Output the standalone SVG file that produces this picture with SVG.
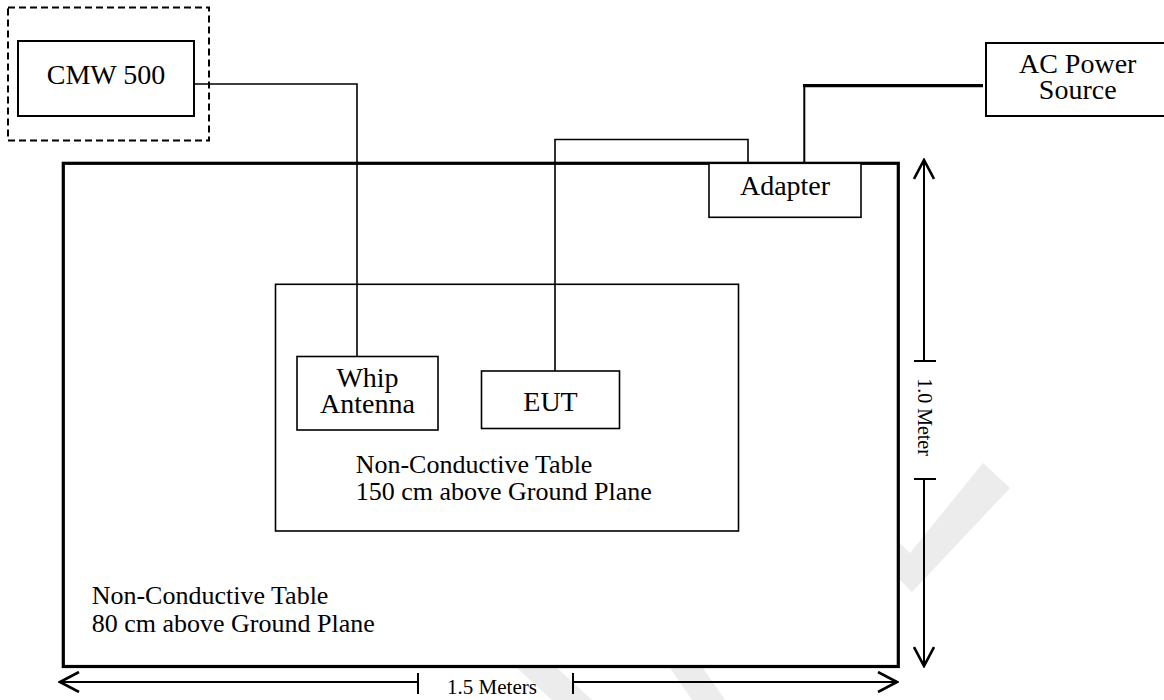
<svg xmlns="http://www.w3.org/2000/svg" width="1164" height="700" viewBox="0 0 1164 700">
  <defs>
    <style>
      .box{fill:#fff;stroke:#000;stroke-width:1.6}
      .table{fill:#fff;stroke:#000;stroke-width:3.2}
      .dash{fill:none;stroke:#000;stroke-width:2;stroke-dasharray:7 4}
      .wire{fill:none;stroke:#000;stroke-width:1.6}
      .dim{fill:none;stroke:#000;stroke-width:2}
      .lbl{font-family:"Liberation Serif","Times New Roman",serif;font-size:28px;fill:#000;text-anchor:middle}
      .tl{font-family:"Liberation Serif","Times New Roman",serif;font-size:26px;fill:#000}
      .dl{font-family:"Liberation Serif","Times New Roman",serif;font-size:21px;fill:#000;text-anchor:middle}
      .wm{fill:#ececec}
    </style>
    <marker id="arr" viewBox="0 0 22 22" refX="20" refY="11" markerWidth="22" markerHeight="22" markerUnits="userSpaceOnUse" orient="auto-start-reverse">
      <path d="M1,1 L20,11 L1,21" fill="none" stroke="#000" stroke-width="2.6"/>
    </marker>
  </defs>

  <g id="watermark">
    <polygon class="wm" points="983,463 1010,488 912,592 860,540 878,522 910,553"/>
    <polygon class="wm" points="517,668 557,668 592,700 552,700"/>
    <polygon class="wm" points="670,668 703,668 725,700 692,700"/>
  </g>

  <g id="outer-table">
    <rect class="table" x="63.3" y="163.3" width="835" height="503.2"/>
    <text class="tl" x="91.7" y="604.3">Non-Conductive Table</text>
    <text class="tl" x="91.7" y="631.7">80 cm above Ground Plane</text>
  </g>

  <g id="inner-table">
    <rect class="box" x="275.5" y="284.3" width="463" height="246.7"/>
    <text class="tl" x="355.7" y="472.7">Non-Conductive Table</text>
    <text class="tl" x="355.7" y="500">150 cm above Ground Plane</text>
  </g>

  <g id="connectors">
    <path class="wire" d="M194,84 H357 V356.5"/>
    <path class="wire" d="M748,163 V139.5 H555 V371"/>
    <path fill="none" stroke="#000" stroke-width="3.2" d="M983,85.7 H803"/>
    <path fill="none" stroke="#000" stroke-width="2" d="M804.3,85.7 V163"/>
  </g>

  <g id="cmw-group">
    <rect class="dash" x="8" y="7.5" width="201" height="133"/>
  </g>

  <g id="cmw500">
    <rect class="box" x="18" y="41" width="176" height="75" style="stroke-width:2"/>
    <text class="lbl" x="106" y="84">CMW 500</text>
  </g>

  <g id="ac-power">
    <rect class="box" x="986" y="43" width="200" height="73" style="stroke-width:2"/>
    <text class="lbl" x="1077.7" y="73.3">AC Power</text>
    <text class="lbl" x="1077.7" y="99.3">Source</text>
  </g>

  <g id="adapter">
    <rect class="box" x="709" y="163.3" width="152" height="54"/>
    <text class="lbl" x="785" y="195">Adapter</text>
  </g>

  <g id="whip-antenna">
    <rect class="box" x="297" y="356.5" width="141" height="73.5"/>
    <text class="lbl" x="367.5" y="387.3">Whip</text>
    <text class="lbl" x="367.5" y="413.3">Antenna</text>
  </g>

  <g id="eut">
    <rect class="box" x="481.5" y="371" width="138" height="57.5"/>
    <text class="lbl" x="550.5" y="411">EUT</text>
  </g>

  <g id="dimensions">
    <path class="dim" d="M418,682 H60" marker-end="url(#arr)"/>
    <path class="dim" d="M418,673 V694"/>
    <path class="dim" d="M573,682 H897" marker-end="url(#arr)"/>
    <path class="dim" d="M573,673 V694"/>
    <text class="dl" x="492" y="694">1.5 Meters</text>

    <path class="dim" d="M924,361 V160" marker-end="url(#arr)"/>
    <path class="dim" d="M914,361 H936"/>
    <path class="dim" d="M924,479 V666" marker-end="url(#arr)"/>
    <path class="dim" d="M914,479 H936"/>
    <text class="dl" transform="translate(918,417) rotate(90)" x="0" y="0" style="font-size:20px">1.0 Meter</text>
  </g>
</svg>
